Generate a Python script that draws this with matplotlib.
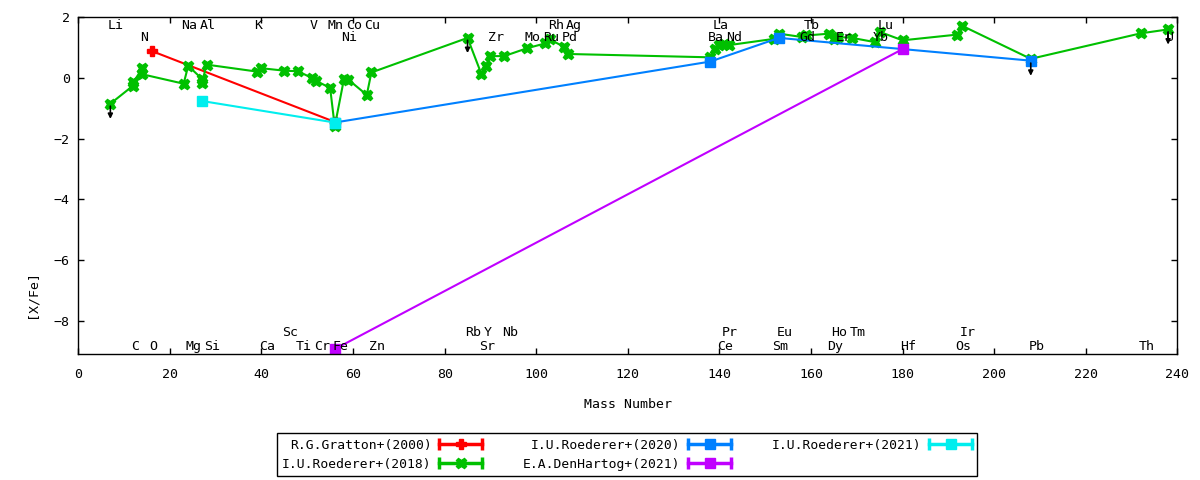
import matplotlib
matplotlib.use("Agg")
import matplotlib.pyplot as plt
from matplotlib.lines import Line2D
from matplotlib.legend_handler import HandlerLine2D, HandlerTuple

plt.rcParams['font.family'] = ['DejaVu Sans Mono']
plt.rcParams['font.size'] = 9.5

# element labels (mass number of label, row)
top1_el = ["Li", "Na", "Al", "K", "V", "Mn", "Co", "Cu", "Rh", "Ag", "La", "Tb", "Lu"]
top1_a = [7, 23, 27, 39, 51, 55, 59, 63, 103, 107, 139, 159, 175]
top2_el = ["N", "Ni", "Zr", "Mo", "Ru", "Pd", "Ba", "Nd", "Gd", "Er", "Yb", "U"]
top2_a = [14, 58, 90, 98, 102, 106, 138, 142, 158, 166, 174, 238]
bot2_el = ["Sc", "Rb", "Y", "Nb", "Pr", "Eu", "Ho", "Tm", "Ir"]
bot2_a = [45, 85, 89, 93, 141, 153, 165, 169, 193]
bot1_el = ["C", "O", "Mg", "Si", "Ca", "Ti", "Cr", "Fe", "Zn", "Sr", "Ce", "Sm", "Dy", "Hf", "Os", "Pb", "Th"]
bot1_a = [12, 16, 24, 28, 40, 48, 52, 56, 64, 88, 140, 152, 164, 180, 192, 208, 232]

# R.G.Gratton+(2000)
gr_a = [16, 56]
gr_v = [0.89, -1.45]
# I.U.Roederer+(2018)
r18_a = [7, 12, 12, 14, 14, 23, 24, 27, 27, 28, 39, 40, 45, 48, 51, 52, 55, 56, 58, 59, 63, 64,
         85, 88, 89, 90, 93, 98, 102, 103, 106, 107, 138, 139, 140, 141, 142, 152, 153, 158,
         159, 164, 165, 166, 169, 174, 175, 180, 192, 193, 208, 232, 238]
r18_v = [-0.85, -0.25, -0.15, 0.33, 0.12, -0.19, 0.40, -0.03, -0.18, 0.44, 0.21, 0.32, 0.24, 0.22,
         0.0, -0.1, -0.33, -1.6, -0.05, -0.06, -0.56, 0.18, 1.32, 0.14, 0.41, 0.72, 0.72, 0.98,
         1.14, 1.27, 1.03, 0.79, 0.68, 0.97, 1.07, 1.12, 1.08, 1.29, 1.46, 1.35, 1.40, 1.46,
         1.29, 1.35, 1.32, 1.18, 1.52, 1.24, 1.43, 1.72, 0.63, 1.47, 1.60]
# I.U.Roederer+(2020)
r20_a = [56, 138, 153, 208]
r20_v = [-1.47, 0.54, 1.32, 0.57]
# E.A.DenHartog+(2021)
dh_a = [56, 180]
dh_v = [-8.94, 0.95]
# I.U.Roederer+(2021)
r21_a = [27, 56]
r21_v = [-0.76, -1.47]
# upper limits
ul_a = [7, 85, 208, 238]
ul_v = [-0.85, 1.32, 0.57, 1.60]

series = [
    ("R.G.Gratton+(2000)", gr_a, gr_v, "#ff0000", "P", 7),
    ("I.U.Roederer+(2018)", r18_a, r18_v, "#00c000", "X", 7.5),
    ("I.U.Roederer+(2020)", r20_a, r20_v, "#0080ff", "s", 7),
    ("E.A.DenHartog+(2021)", dh_a, dh_v, "#c000ff", "s", 7),
    ("I.U.Roederer+(2021)", r21_a, r21_v, "#00eeee", "s", 7),
]

fig = plt.figure(figsize=(12, 4.8), dpi=100)
ax = fig.add_axes([0.06525, 0.2619, 0.91583, 0.7021])

handles = []
hmap = {}
for name, xs, ys, col, mk, ms in series:
    ax.plot(xs, ys, color=col, lw=1.5, marker=mk, ms=ms, mec=col, mfc=col)
    caps = Line2D([], [], color=col, lw=2.5, marker="|", ms=9, mew=2.5)
    mark = Line2D([], [], color=col, lw=0, marker=mk, ms=ms, mec=col, mfc=col)
    hmap[caps] = HandlerLine2D(numpoints=2, marker_pad=0)
    hmap[mark] = HandlerLine2D(numpoints=1)
    handles.append((caps, mark))

for x, v in zip(ul_a, ul_v):
    ax.annotate("", xy=(x, v - 0.5), xytext=(x, v - 0.08),
                arrowprops=dict(arrowstyle="-|>", color="black", lw=1.2,
                                mutation_scale=7, shrinkA=0, shrinkB=0))

for els, aa, yv in [(top1_el, top1_a, 1.72), (top2_el, top2_a, 1.34),
                    (bot2_el, bot2_a, -8.38), (bot1_el, bot1_a, -8.84)]:
    for e, a in zip(els, aa):
        ax.text(a - 0.5, yv, e, ha="left", va="center", fontsize=9.5)

ax.set_xlim(0, 240)
ax.set_ylim(-9.11, 2)
ax.set_xticks(range(0, 241, 20))
ax.set_yticks(range(-8, 3, 2))
ax.tick_params(direction="in", top=True, right=True, length=4, width=1, pad=10)
ax.tick_params(axis="y", pad=6)
for sp in ax.spines.values():
    sp.set_linewidth(1)

fig.text(0.0265, 0.387, "[X/Fe]", rotation=90, ha="center", va="center")
fig.text(0.523, 0.157, "Mass Number", ha="center", va="center")

hmap[tuple] = HandlerTuple(ndivide=1, pad=0)
leg = fig.legend(handles, [s[0] for s in series], handler_map=hmap, ncol=3,
                 loc="center", bbox_to_anchor=(0.5225, 0.0525), markerfirst=False,
                 fancybox=False, edgecolor="black", framealpha=1, handlelength=3.3,
                 columnspacing=3.1, labelspacing=0.5, borderpad=0.4, handletextpad=0.6,
                 borderaxespad=0, fontsize=9.4)
leg.get_frame().set_linewidth(1)

fig.savefig("out.png", dpi=100)
